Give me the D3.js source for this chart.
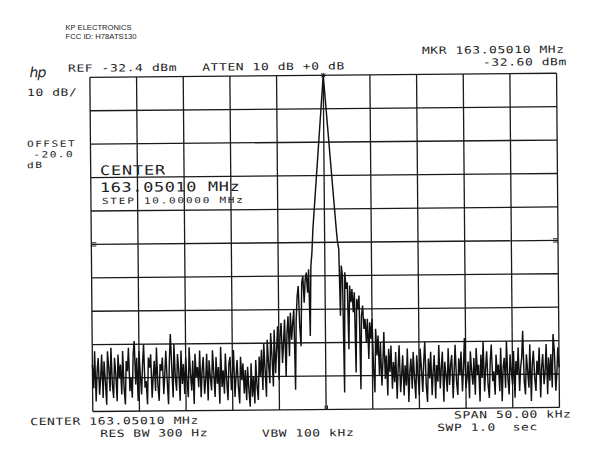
<!DOCTYPE html>
<html>
<head>
<meta charset="utf-8">
<script src="https://cdn.jsdelivr.net/npm/d3@7"></script>
<style>
  html, body { margin: 0; padding: 0; background: #fff; }
  svg { display: block; }
  .plot { font-family: "DejaVu Sans Mono", "Liberation Mono", monospace; fill: #1a1a1a; }
</style>
</head>
<body>
<svg id="chart" width="600" height="476"></svg>
<script>
// ---------------- DATA ----------------
// Graticule: frequency offset from centre (kHz) and level relative to reference (dB)
const gridFreqKHz = [-25, -20, -15, -10, -5, 0, 5, 10, 15, 20, 25];
const gridLevelDb = [0, -10, -20, -30, -40, -50, -60, -70, -80, -90, -100];

// Trace (dB below reference), 401 sweep points split in segments
const noiseLeft = [
  -86,-93,-82,-97,-88,-84,-95,-90,-83,-96,
  -85,-91,-98,-82,-87,-94,-81,-92,-96,-84,
  -89,-97,-83,-90,-86,-95,-82,-93,-98,-85,
  -88,-81,-94,-90,-96,-83,-79,-92,-84,-97,
  -82,-89,-95,-86,-80,-93,-91,-98,-84,-87,
  -83,-96,-90,-85,-94,-81,-92,-97,-86,-88,
  -84,-95,-89,-82,-91,-98,-85,-77,-87,-96,
  -80,-90,-94,-83,-88,-97,-82,-92,-86,-95,
  -84,-91,-96,-81,-89,-94,-85,-98,-83,-90,
  -87,-93,-82,-96,-88,-84,-95,-91,-83,-97,
  -85,-90,-94,-82,-89,-96,-84,-92,-87,-98,
  -81,-93,-88,-95,-83,-91,-97,-86,-84,-94,
  -89,-82,-96,-90,-85,-93,-98,-84,-91
];
const noiseDip = [-86,-95,-88,-97,-87,-94,-99,-86,-96,-90,-98,-85,-93,-97,-84];
const sidelobeLeft = [
  -90,-82,-94,-80,-88,-96,-79,-86,-92,-77,-84,-93,-76,-89,-82,-75,-91,-78,-74,-86,
  -80,-73,-90,-77,-72,-84,-71,
  -79,-74,-70,-94,-73,-66,-63,-75,-81,-62,-60,-68,-61,-59,-65,-58,-78,-57,-53,-46
];
const mainLobe = [-41.4,-36.8,-32.2,-27.6,-23,-18.4,-13.8,-9.2,-4.6,0,-4.6,-9.2,-13.8,-18.4,-23,-27.6,-32.2,-36.8,-41.4];
const sidelobeRight = [
  -46,-50,-52,-72,-57,-60,-95,-59,-64,-62,-82,-63,-68,-64,-71,-65,-89,-67,-70,-66,
  -94,-72,-69,-76,-73,-80,-73,-85,-74,-79,-73,-88,-95,-76,-84,-78,-90,-80,-93,-86,
  -77,-91,-84,-96,-82,-89,-81,-94
];
const noiseRight = [
  -86,-92,-83,-97,-88,-81,-95,-90,-84,-96,
  -87,-93,-82,-98,-89,-85,-94,-83,-91,-97,
  -84,-90,-96,-82,-88,-95,-86,-80,-93,-98,
  -85,-91,-83,-96,-89,-84,-97,-87,-92,-81,
  -94,-88,-83,-98,-86,-90,-95,-82,-93,-87,
  -84,-97,-89,-81,-92,-96,-85,-90,-83,-95,
  -88,-79,-94,-91,-86,-97,-83,-89,-93,-85,
  -96,-82,-90,-87,-98,-84,-91,-80,-95,-88,
  -83,-93,-97,-86,-81,-92,-89,-96,-84,-90,
  -87,-95,-82,-98,-88,-85,-94,-80,-91,-96,
  -84,-89,-93,-83,-97,-86,-90,-82,-95,-88,
  -85,-77,-92,-96,-84,-89,-94,-81,-98,-87,
  -83,-91,-95,-86,-90,-82,-97,-88,-84,-93,
  -89,-81,-96,-85,-92,-84,-94,-78,-83,-95,
  -90,-82,-88
];
const spanKHz = 50;
const markerFreqKHz = 0;
const markerLevelDb = 0;

// Text
const headerLines = ["KP ELECTRONICS", "FCC ID: H78ATS130"];
const refLine = "REF -32.4 dBm   ATTEN 10 dB +0 dB";
const markerLines = ["MKR 163.05010 MHz", "-32.60 dBm"];
const scaleLabel = "10 dB/";
const offsetLines = ["OFFSET", "-20.0", "dB"];
const centerBig = ["CENTER", "163.05010 MHz"];
const stepLabel = "STEP 10.00000 MHz";
const bottomLeft = ["CENTER 163.05010 MHz", "RES BW 300 Hz"];
const bottomMid = "VBW 100 kHz";
const bottomRight = ["SPAN 50.00 kHz", "SWP 1.0  sec"];

// ---------------- DRAW ----------------
const trace = [].concat(noiseLeft, noiseDip, sidelobeLeft, mainLobe, sidelobeRight, noiseRight);
const nPts = trace.length;
const points = trace.map((db, i) => ({ f: -spanKHz / 2 + i * spanKHz / (nPts - 1), db }));

const svg = d3.select("#chart");
svg.append("rect").attr("width", 600).attr("height", 476).attr("fill", "#fff");

// header (not rotated)
svg.selectAll("text.hdr").data(headerLines).join("text")
  .attr("class", "hdr")
  .attr("x", 65.5).attr("y", (d, i) => 29.5 + i * 9.8)
  .attr("font-family", "Liberation Sans, Arial, sans-serif")
  .attr("font-size", 7)
  .attr("textLength", (d, i) => i === 0 ? 66 : 71)
  .attr("lengthAdjust", "spacingAndGlyphs")
  .attr("fill", "#222")
  .text(d => d);

const g = svg.append("g").attr("class", "plot").attr("transform", "rotate(-0.5,300,240)");

const x = d3.scaleLinear().domain([-25, 25]).range([91.3, 558]);
const y = d3.scaleLinear().domain([-100, 0]).range([409.7, 75.5]);

// graticule
g.append("g").selectAll("line").data(gridFreqKHz).join("line")
  .attr("x1", d => x(d)).attr("x2", d => x(d))
  .attr("y1", y(0)).attr("y2", y(-100))
  .attr("stroke", "#1a1a1a").attr("stroke-width", 1.3);
g.append("g").selectAll("line").data(gridLevelDb).join("line")
  .attr("x1", x(-25)).attr("x2", x(25))
  .attr("y1", d => y(d)).attr("y2", d => y(d))
  .attr("stroke", "#1a1a1a").attr("stroke-width", 1.3);

// small edge marks at mid-screen
[-25, 25].forEach(f => {
  const sgn = f < 0 ? 1 : -1;
  [-1.6, 1.6].forEach(dy => {
    g.append("line")
      .attr("x1", x(f)).attr("x2", x(f) + sgn * 5)
      .attr("y1", y(-50) + dy).attr("y2", y(-50) + dy)
      .attr("stroke", "#222").attr("stroke-width", 1);
  });
});
// small centre marks at bottom
[-0.1, 0.15].forEach(f => {
  g.append("line")
    .attr("x1", x(f)).attr("x2", x(f))
    .attr("y1", y(-100)).attr("y2", y(-100) - 4)
    .attr("stroke", "#222").attr("stroke-width", 1);
});

// trace
const line = d3.line().x(d => x(d.f)).y(d => y(d.db));
g.append("path").datum(points)
  .attr("d", line)
  .attr("fill", "none")
  .attr("stroke", "#111")
  .attr("stroke-width", 1.45)
  .attr("stroke-linejoin", "miter")
  .attr("stroke-miterlimit", 3);

// marker
const mx = x(markerFreqKHz), my = y(markerLevelDb);
[[-2.5, 0, 2.5, 0], [0, -2.5, 0, 2.5], [-2, -2, 2, 2], [-2, 2, 2, -2]].forEach(s => {
  g.append("line").attr("x1", mx + s[0]).attr("y1", my + s[1]).attr("x2", mx + s[2]).attr("y2", my + s[3])
    .attr("stroke", "#111").attr("stroke-width", 0.9);
});

// hp logo
g.append("text").attr("x", 31).attr("y", 75)
  .attr("font-family", "DejaVu Sans, sans-serif").attr("font-style", "italic")
  .attr("font-size", 14).attr("fill", "#222")
  .style("letter-spacing", "-1px").text("hp");

// plotter style annotations: wide monospace glyphs (scaled horizontally)
function label(txt, px, py, size, advance) {
  const sx = 1.3;
  const natural = size * 0.602 * sx;
  const ls = (advance - natural) / sx;
  g.append("text")
    .attr("transform", `translate(${px},${py}) scale(${sx},1)`)
    .attr("font-size", size)
    .style("letter-spacing", ls + "px")
    .style("white-space", "pre")
    .attr("xml:space", "preserve")
    .attr("fill", "#1e1e1e")
    .text(txt);
}
label(refLine, 69.5, 69.8, 10, 8.4);
label(markerLines[0], 423.6, 55, 10, 8.4);
label(markerLines[1], 484.5, 67.4, 10, 8.4);
label(scaleLabel, 28.3, 93.6, 10, 8.4);
label(offsetLines[0], 27.8, 144.6, 8.6, 8.2);
label(offsetLines[1], 34, 155.2, 8.6, 8.2);
label(offsetLines[2], 27.6, 165.8, 8.6, 8.2);
label(centerBig[0], 100.6, 173.3, 13, 11);
label(centerBig[1], 100.4, 190.3, 13, 10.8);
label(stepLabel, 102.3, 202.3, 8.5, 8.4);
label(bottomLeft[0], 28.6, 422.8, 10, 8.45);
label(bottomLeft[1], 98.5, 435.3, 10, 8.3);
label(bottomMid, 260.3, 436.5, 10, 8.4);
label(bottomRight[0], 452.5, 419.8, 10, 8.4);
label(bottomRight[1], 435.5, 432.3, 10, 8.4);
</script>
</body>
</html>
